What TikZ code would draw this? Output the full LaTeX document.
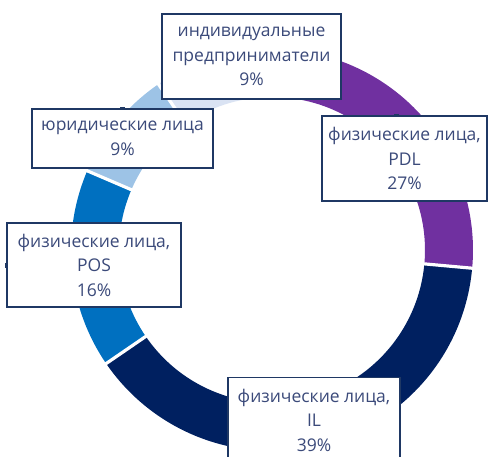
\documentclass[tikz,border=0pt]{standalone}
\usepackage{fontspec}
\setmainfont{Open Sans}
\definecolor{cPDL}{HTML}{7030A0}
\definecolor{cIL}{HTML}{002060}
\definecolor{cPOS}{HTML}{0070C0}
\definecolor{cUL}{HTML}{9DC3E6}
\definecolor{cIP}{HTML}{DAE3F3}
\definecolor{boxline}{HTML}{1F3864}
\definecolor{txt}{HTML}{3B4A7A}
\newcommand\donutslice[3]{\fill[#3] ([shift={(c)}]#1:201) arc[start angle=#1,end angle=#2,radius=201] -- ([shift={(c)}]#2:153) arc[start angle=#2,end angle=#1,radius=153] -- cycle;}
\begin{document}
\begin{tikzpicture}[x=1pt,y=1pt,
  lbl/.style={draw=boxline, line width=1.6pt, fill=white, text=txt, align=center, inner sep=0pt,
    font=\fontsize{17.5}{24.5}\selectfont},
  gap/.style={white, line width=3.2pt}]
\useasboundingbox (0,0) rectangle (488,-456);
\coordinate (c) at (272,-250);
% donut
\donutslice{92}{-5.2}{cPDL}
\donutslice{-5.2}{-145.6}{cIL}
\donutslice{-145.6}{-203.2}{cPOS}
\donutslice{-203.2}{-235.6}{cUL}
\donutslice{-235.6}{-268}{cIP}
\foreach \a in {92,-5.2,-145.6,-203.2,-235.6}
  \draw[gap] ([shift={(c)}]\a:148) -- ([shift={(c)}]\a:206);
% labels
\node[lbl, minimum width=179, minimum height=85] (ip) at (251.5,-56.5) {индивидуальные\\предприниматели\\9\%};
\node[lbl, minimum width=165, minimum height=85] (pdl) at (404.5,-158.5) {физические лица,\\PDL\\27\%};
\node[lbl, minimum width=181, minimum height=59] (ul) at (122.5,-138.5) {юридические лица\\9\%};
\node[lbl, minimum width=174, minimum height=84] (pos) at (94,-265) {физические лица,\\POS\\16\%};
\node[lbl, minimum width=172, minimum height=85] (il) at (314,-420) {физические лица,\\IL\\39\%};
% leader anchors
\fill[boxline] ([xshift=-2.5pt,yshift=-1.5pt]ul.north) rectangle ([xshift=2.5pt,yshift=1.5pt]ul.north);
\fill[boxline] ([xshift=-4pt,yshift=-1.5pt]pdl.north) ++(-7,0) rectangle ++(5,3);
\fill[boxline] ([xshift=-1.5pt,yshift=-2.5pt]pos.west) rectangle ([xshift=1.5pt,yshift=2.5pt]pos.west);
\end{tikzpicture}
\end{document}
